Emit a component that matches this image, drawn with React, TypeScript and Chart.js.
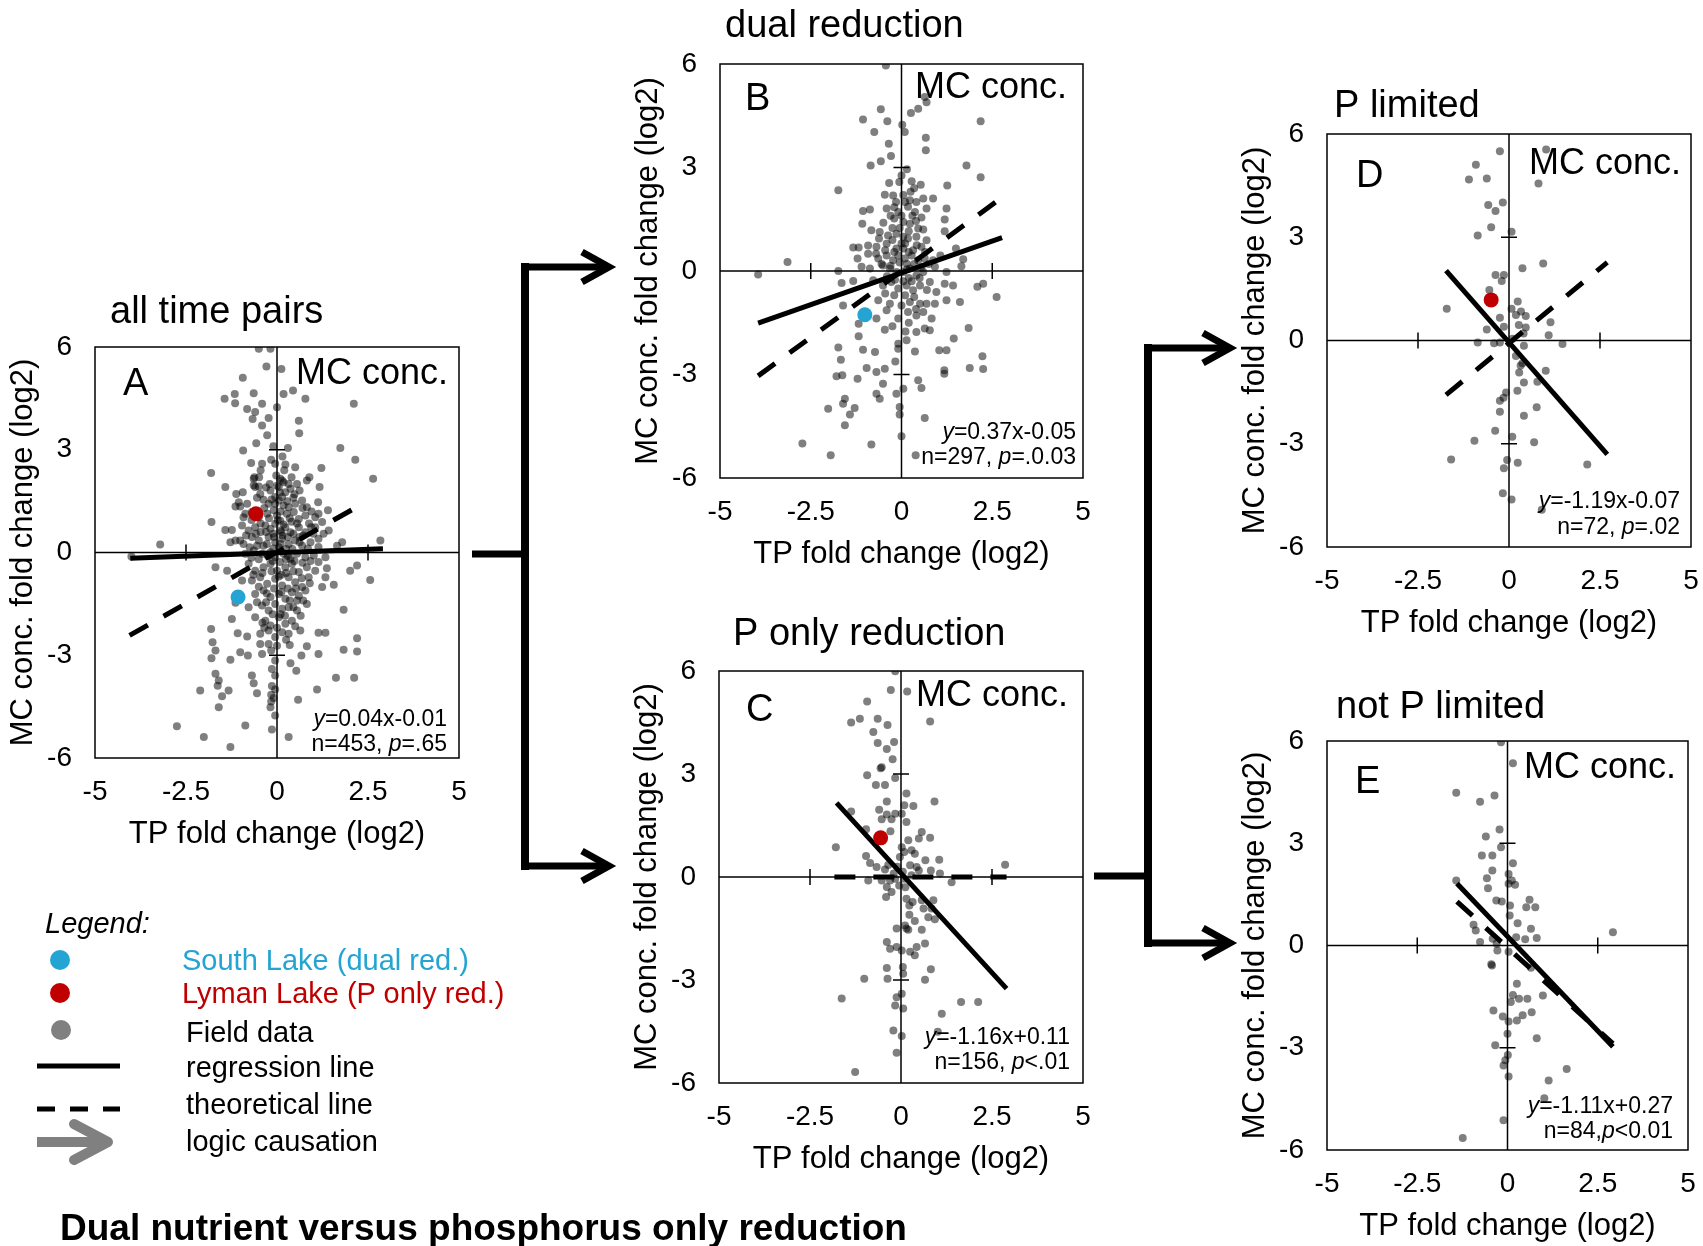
import React, { useEffect, useRef } from 'react';
import { Chart, registerables } from 'chart.js';

Chart.register(...registerables);

const FAM = '"Liberation Sans", Arial, Helvetica, sans-serif';
const BLUE = '#23A4D3';
const RED = '#C00000';
const POINT = 'rgba(0,0,0,0.5)';

// axis ticks (labels outside the frame) and the small marks on the centre cross
const X_TICKS = [-5, -2.5, 0, 2.5, 5];
const Y_TICKS = [-6, -3, 0, 3, 6];
const X_MARKS = [-2.5, 2.5];
const Y_MARKS = [-3, 3];
const X_TITLE = 'TP fold change (log2)';
const Y_TITLE = 'MC conc. fold change (log2)';

// ---------------- Panel A : all time pairs ----------------
const fieldA: number[][] = [
  [-0.50, 5.95], [-0.18, 5.95], [-0.29, 5.43], [0.12, 5.36], [-0.94, 5.10], [-1.16, 4.63], [-0.64, 4.65], [-1.44, 4.49],
  [-1.15, 4.36], [-0.41, 4.34], [-0.82, 4.19], [-0.60, 4.10], [-0.67, 3.90], [-0.23, 3.93], [0.00, 4.24], [0.44, 4.73],
  [0.18, 4.63], [0.78, 4.49], [0.60, 3.85], [0.61, 3.48], [-0.41, 3.71], [-0.27, 3.42], [-0.57, 3.19], [-0.93, 2.98],
  [2.11, 4.34], [1.74, 3.05], [2.15, 2.71], [2.64, 2.15], [-1.81, 2.32], [-0.71, 2.61], [-0.41, 2.59], [-0.16, 2.71],
  [-0.05, 2.59], [0.23, 2.57], [0.50, 2.49], [1.22, 2.47], [0.89, 2.20], [0.82, 2.10], [1.17, 1.91], [0.62, 1.81],
  [0.32, 2.00], [0.14, 2.10], [-1.42, 1.91], [-1.12, 1.71], [-0.94, 1.76], [-0.62, 2.20], [-0.49, 2.20], [-0.60, 1.91],
  [-0.46, 1.71], [-0.18, 1.81], [-1.14, 1.34], [-1.01, 1.34], [-1.80, 0.89], [-0.92, 1.03], [-1.42, 0.66], [-1.24, 0.66],
  [-1.28, 0.30], [-1.01, 0.35], [-3.21, 0.23], [-4.00, -0.12], [1.13, 1.47], [1.40, 1.23], [1.14, 1.13], [0.94, 0.74],
  [1.42, 0.64], [1.79, 0.30], [1.65, 0.20], [2.84, 0.35], [1.14, 0.16], [1.33, -0.14], [1.14, -0.28], [1.37, -0.46],
  [2.01, -0.53], [2.20, -0.38], [2.56, -0.80], [1.33, -0.72], [1.56, -0.94], [0.87, -0.72], [1.24, -1.01], [1.83, -1.67],
  [1.14, -2.34], [1.33, -2.34], [2.20, -2.50], [2.20, -2.89], [1.83, -2.84], [1.14, -2.96], [0.82, -2.74], [0.67, -3.01],
  [0.37, -3.23], [0.53, -3.45], [1.62, -3.66], [2.12, -3.66], [1.10, -4.00], [0.58, -4.30], [0.32, -5.39],
  [-1.69, -0.43], [-1.37, -0.53], [-0.96, -0.82], [-1.14, -1.47], [-1.24, -1.94], [-1.08, -2.36], [-0.82, -2.45],
  [-1.81, -2.23], [-1.77, -2.62], [-1.69, -2.86], [-1.80, -3.09], [-1.28, -3.13], [-1.01, -2.91], [-0.80, -3.01],
  [-0.41, -2.96], [-0.46, -2.67], [-0.23, -2.67], [-1.69, -3.54], [-1.60, -3.74], [-1.63, -3.89], [-0.69, -3.59],
  [-0.64, -3.82], [-0.55, -4.11], [-1.33, -4.03], [-1.51, -4.20], [-2.11, -4.03], [-1.60, -4.52], [-0.87, -5.05],
  [-2.75, -5.07], [-2.01, -5.39], [-1.28, -5.68], [-0.18, -4.52], [-0.14, -5.17], [-0.05, -4.76], [-0.14, -3.90],
  [-0.05, -4.00], [-0.16, -4.15], [-0.09, -4.25], [-0.16, -4.35], [-0.05, -3.59], [-0.14, -3.40], [-0.05, -3.15],
  [-0.16, -2.86], [0.00, -2.72],
  [-0.64, 2.15], [0.09, 2.15], [0.18, 2.05], [0.55, 2.00], [-0.02, 2.25],
  [-0.64, 1.96], [-0.50, 1.93], [0.05, 1.91], [0.23, 1.76], [0.37, 1.86], [-0.05, 1.62], [0.14, 1.62],
  [-1.05, 1.47], [-0.82, 1.42], [-0.37, 1.54], [-0.23, 1.42], [-0.05, 1.42], [0.18, 1.37], [0.32, 1.32], [0.50, 1.42],
  [0.69, 1.52], [0.82, 1.32],
  [-0.87, 1.13], [-0.69, 1.18], [-0.50, 1.03], [-0.27, 1.13], [-0.09, 1.23], [0.00, 1.08], [0.09, 0.93], [0.27, 1.13],
  [0.46, 1.18], [0.60, 0.98], [0.78, 1.08], [1.05, 1.03], [1.24, 0.89],
  [-0.96, 0.79], [-0.78, 0.64], [-0.60, 0.74], [-0.32, 0.79], [-0.18, 0.69], [-0.05, 0.84], [0.09, 0.64], [0.23, 0.74],
  [0.37, 0.59], [0.60, 0.74], [0.78, 0.59], [1.05, 0.74], [1.28, 0.55],
  [-1.14, 0.35], [-0.92, 0.25], [-0.69, 0.45], [-0.50, 0.35], [-0.37, 0.20], [-0.23, 0.45], [-0.05, 0.30], [0.14, 0.40],
  [0.32, 0.25], [0.50, 0.35], [0.69, 0.20], [0.92, 0.30], [1.14, 0.40],
  [-0.87, -0.04], [-0.64, 0.06], [-0.41, -0.04], [-0.18, 0.01], [-0.05, -0.14], [0.18, -0.04], [0.37, -0.18], [0.55, -0.04],
  [0.78, -0.14], [1.01, -0.09],
  [-0.78, -0.33], [-0.60, -0.53], [-0.37, -0.43], [-0.18, -0.33], [0.00, -0.53], [0.23, -0.43], [0.41, -0.33], [0.60, -0.57],
  [0.82, -0.43], [1.05, -0.53],
  [-0.69, -0.82], [-0.46, -0.72], [-0.27, -0.91], [-0.05, -0.77], [0.14, -0.96], [0.32, -0.72], [0.50, -0.87], [0.69, -1.01],
  [-0.60, -1.21], [-0.37, -1.11], [-0.18, -1.30], [0.05, -1.21], [0.23, -1.35], [0.41, -1.16], [0.60, -1.26], [0.78, -1.11],
  [-0.78, -1.60], [-0.41, -1.55], [-0.23, -1.69], [-0.05, -1.50], [0.14, -1.64], [0.32, -1.60], [0.55, -1.69], [0.82, -1.50],
  [-0.60, -1.89], [-0.32, -1.99], [-0.18, -2.13], [0.05, -1.89], [0.23, -2.08], [0.41, -1.99],
  [-0.46, -2.37], [-0.23, -2.28], [-0.05, -2.47], [0.14, -2.33], [0.32, -2.37], [0.64, -2.28],
  [0.05, 1.52], [0.10, 1.20], [0.15, 0.50], [-0.10, 0.55], [0.05, 0.15], [0.25, -0.20], [-0.12, -0.25], [0.12, -0.65],
  [0.30, -1.05], [-0.30, -1.45], [0.45, 1.60], [0.20, 2.40], [-0.30, 1.90], [0.40, 0.90], [-0.45, 0.60], [0.62, 0.45],
  [0.10, -1.80], [0.35, -2.70], [-0.35, -2.20], [0.55, -1.40],
  [-0.55, 1.60], [-0.35, 1.30], [-0.15, 1.55], [0.08, 1.75], [0.28, 1.50], [0.48, 1.70], [0.70, 1.30], [0.95, 1.20],
  [-0.70, 0.95], [-0.45, 0.85], [-0.22, 1.00], [0.02, 0.95], [0.18, 0.82], [0.35, 1.00], [0.55, 0.85], [0.88, 0.85],
  [-0.85, 0.50], [-0.58, 0.55], [-0.30, 0.60], [-0.08, 0.45], [0.12, 0.60], [0.30, 0.45], [0.45, 0.55], [0.72, 0.50],
  [1.00, 0.55], [-0.75, 0.15], [-0.55, 0.20], [-0.28, 0.25], [-0.10, 0.12], [0.10, 0.25], [0.25, 0.10], [0.42, 0.10],
  [0.62, 0.30], [0.85, 0.12], [-0.70, -0.15], [-0.50, -0.20], [-0.25, -0.10], [0.08, -0.28], [0.30, -0.10], [0.48, -0.25],
  [0.70, -0.30], [0.92, -0.25], [-0.65, -0.65], [-0.40, -0.60], [-0.15, -0.55], [0.05, -0.70], [0.25, -0.60], [0.45, -0.55],
  [0.68, -0.75], [0.90, -0.90], [-0.50, -1.00], [-0.28, -1.20], [-0.08, -1.05], [0.12, -1.15], [0.35, -1.40], [0.52, -1.05],
  [0.72, -1.40], [-0.55, -1.45], [-0.12, -1.80], [0.22, -1.85], [0.45, -1.60], [0.65, -1.85], [-0.40, -2.05], [0.00, -2.20],
  [0.25, -2.55], [0.50, -2.15], [-0.20, 2.00], [0.00, 1.95], [0.40, 2.20], [-0.45, 2.40], [0.15, 2.80], [-0.10, 3.10],
  [0.30, 3.05],
];
const regA: number[][] = [[-4.03, -0.17], [2.91, 0.11]];
const theoA: number[][] = [[-4.05, -2.42], [2.38, 1.44]];
const southLakeA: number[][] = [[-1.07, -1.30]];
const lymanLakeA: number[][] = [[-0.58, 1.13]];

// ---------------- Panel B : dual reduction ----------------
const fieldB: number[][] = [
  [-0.43, 5.96], [0.64, 5.04], [0.46, 4.70], [0.26, 4.58], [0.69, 4.89], [-0.57, 4.69], [-1.06, 4.39], [-0.39, 4.34],
  [-0.75, 4.03], [0.02, 4.24], [0.09, 4.03], [-0.35, 3.69], [0.67, 3.86], [0.67, 3.50], [2.18, 4.34], [-0.29, 3.33],
  [-0.57, 3.18], [-0.85, 3.06], [1.79, 3.06], [2.18, 2.72], [-1.74, 2.34], [-0.34, 2.55], [-0.06, 2.58], [0.00, 2.77],
  [0.28, 2.60], [0.53, 2.50], [1.26, 2.48], [-0.46, 2.21], [-0.23, 2.19], [0.23, 2.05], [0.41, 2.00], [0.60, 2.10],
  [0.87, 2.10], [-1.06, 1.74], [-0.87, 1.78], [-0.41, 1.81], [-0.09, 1.71], [0.18, 1.86], [0.37, 1.71], [0.69, 1.81],
  [1.24, 1.81], [-1.08, 1.37], [-0.20, 1.52], [0.05, 1.42], [0.23, 1.37], [0.46, 1.23], [1.19, 1.49], [1.19, 1.15],
  [-0.83, 1.18], [-0.60, 1.13], [-0.37, 1.03], [-0.14, 1.08], [0.05, 0.99], [0.18, 0.94], [0.41, 0.99], [0.69, 0.89],
  [-0.62, 0.94], [-1.33, 0.68], [-1.18, 0.68], [-0.92, 0.74], [-0.69, 0.70], [-0.41, 0.79], [-0.14, 0.65], [0.05, 0.65],
  [0.32, 0.60], [0.55, 0.70], [1.50, 0.65], [-0.92, 0.50], [-0.64, 0.36], [-0.41, 0.45], [-0.23, 0.31], [-0.09, 0.45],
  [0.09, 0.36], [0.28, 0.45], [0.46, 0.31], [0.64, 0.36], [0.87, 0.31], [1.07, 0.45], [-1.21, 0.36], [-3.14, 0.26],
  [1.70, 0.34], [1.65, 0.14], [-3.95, -0.10], [-1.74, 0.00], [-1.10, 0.12], [-0.87, 0.07], [-0.51, 0.16], [-0.32, 0.07],
  [-0.14, -0.03], [0.05, -0.03], [0.23, 0.07], [0.41, -0.13], [0.60, -0.03], [0.92, 0.12], [1.24, -0.03], [-1.65, -0.35],
  [-1.33, -0.29], [-0.78, -0.27], [-0.51, -0.42], [-0.28, -0.32], [-0.09, -0.51], [0.14, -0.42], [0.32, -0.56], [0.51, -0.42],
  [0.78, -0.32], [0.96, -0.61], [1.19, -0.37], [1.42, -0.42], [2.25, -0.37], [2.09, -0.46], [2.62, -0.75], [-1.61, -1.00],
  [-0.64, -0.85], [-0.32, -0.95], [0.00, -1.00], [0.23, -0.90], [0.51, -0.95], [0.69, -0.95], [0.92, -0.95], [1.24, -0.85],
  [1.61, -0.90], [-0.69, -1.38], [-0.41, -1.14], [-0.09, -1.38], [0.18, -1.19], [0.41, -1.29], [0.60, -1.19], [0.83, -1.38],
  [-1.18, -1.53], [-0.46, -1.70], [0.11, -1.75], [0.41, -1.77], [0.64, -1.67], [0.78, -1.72], [1.85, -1.65], [-1.18, -1.89],
  [0.14, -2.01], [0.37, -2.33], [1.44, -1.96], [-0.09, -2.11], [-0.09, -2.25], [-1.74, -2.22], [-1.06, -2.28], [-0.73, -2.35],
  [1.04, -2.30], [1.24, -2.30], [-1.67, -2.57], [-0.17, -2.62], [2.23, -2.47], [2.25, -2.84], [1.88, -2.81], [1.18, -2.88],
  [1.18, -2.98], [-0.96, -2.81], [-0.69, -2.93], [-0.46, -2.83], [-1.79, -3.05], [-1.63, -3.02], [-1.21, -3.12], [-0.51, -3.27],
  [0.05, -3.41], [0.46, -3.17], [0.55, -3.39], [-0.69, -3.56], [-0.60, -3.70], [-0.14, -3.56], [-1.56, -3.70], [-1.61, -3.85],
  [-1.29, -3.97], [-2.02, -3.99], [-1.42, -4.16], [-1.56, -4.47], [-0.05, -3.94], [-0.05, -4.16], [0.64, -4.26], [0.00, -4.79],
  [-0.83, -5.03], [-2.73, -5.00], [-1.95, -5.34], [0.39, -5.34],
  [0.10, 0.80], [-0.05, 1.25], [0.30, 1.60], [0.15, 0.20], [-0.25, 0.90], [0.20, -0.20], [-0.20, -0.70], [0.35, -0.75],
  [0.10, 2.00], [-0.30, 1.60], [0.55, 1.55], [0.25, 2.30],
  [-0.50, 1.40], [-0.25, 1.25], [0.00, 1.60], [0.20, 1.15], [0.40, 1.45], [0.60, 1.20], [-0.70, 0.50], [-0.45, 0.60],
  [-0.20, 0.55], [0.00, 0.80], [0.20, 0.55], [0.42, 0.75], [0.65, 0.55], [-0.55, 0.20], [-0.30, 0.15], [-0.05, 0.25],
  [0.15, 0.05], [0.35, 0.20], [0.55, 0.10], [0.75, 0.20], [-0.40, -0.15], [-0.18, -0.25], [0.05, -0.30], [0.28, -0.30],
  [0.50, -0.20], [0.70, -0.55], [-0.45, -0.65], [0.10, -0.70], [0.40, -1.10], [-0.25, -1.60], [0.20, -1.50], [0.05, 2.20],
  [-0.15, 2.00], [0.35, 2.40], [0.15, 2.95], [-0.20, 1.85],
];
const regB: number[][] = [[-3.95, -1.51], [2.77, 0.97]];
const theoB: number[][] = [[-3.95, -3.04], [2.78, 2.14]];
const southLakeB: number[][] = [[-1.01, -1.27]];

// ---------------- Panel C : P only reduction ----------------
const fieldC: number[][] = [
  [-0.16, 5.99], [-0.28, 5.45], [0.17, 5.40], [-0.93, 5.11], [-1.13, 4.61], [-1.37, 4.50], [-0.64, 4.61], [-0.37, 4.43],
  [-0.76, 4.22], [-0.19, 3.93], [-0.64, 3.90], [-0.39, 3.73], [-0.23, 3.43], [-0.53, 3.20], [-0.56, 3.17], [-0.93, 2.96],
  [-0.16, 2.88], [-0.69, 2.68], [-0.44, 2.68], [0.80, 4.53], [0.15, 2.43], [-0.39, 2.20], [0.09, 2.09], [0.34, 2.07],
  [0.92, 2.20], [-0.60, 1.96], [-0.39, 1.82], [-0.16, 1.84], [0.02, 1.84], [-1.37, 1.91], [-0.53, 1.68], [-0.26, 1.68],
  [0.15, 1.60], [-0.29, 1.33], [-0.96, 1.39], [0.57, 1.31], [0.80, 1.14], [0.49, 1.12], [0.20, 1.07], [-1.79, 0.87],
  [0.02, 0.87], [0.09, 0.73], [0.29, 0.78], [0.38, 0.68], [-0.03, 0.58], [-0.96, 0.61], [0.67, 0.49], [1.05, 0.50],
  [-0.85, 0.41], [-0.67, 0.29], [-0.44, 0.22], [-0.35, 0.35], [0.25, 0.34], [0.43, 0.29], [0.49, 0.19], [0.82, 0.19],
  [1.07, 0.10], [2.86, 0.36], [-0.90, -0.10], [-0.53, -0.10], [-0.30, -0.10], [-0.16, -0.05], [0.09, -0.05], [0.29, 0.05],
  [1.39, -0.15], [-0.39, -0.29], [-0.26, -0.44], [-0.41, -0.58], [0.15, -0.63], [0.32, -0.73], [0.23, -0.83], [0.57, -0.68],
  [0.89, -0.68], [0.84, -0.92], [0.62, -0.92], [0.23, -1.10], [0.11, -1.41], [0.38, -1.28], [0.75, -1.17], [0.93, -1.23],
  [-0.12, -1.50], [0.15, -1.50], [0.20, -1.54], [0.57, -1.54], [-0.39, -1.89], [-0.30, -2.09], [-0.12, -2.04], [0.02, -2.14],
  [0.25, -2.18], [0.38, -2.28], [0.66, -1.94], [0.43, -2.04], [-0.39, -2.65], [0.05, -2.62], [0.06, -2.82], [-0.37, -2.96],
  [0.82, -2.69], [0.66, -2.99], [-1.01, -2.96], [-1.63, -3.54], [-0.12, -3.50], [0.02, -3.40], [-0.16, -3.74], [0.06, -3.83],
  [1.65, -3.64], [2.12, -3.64], [1.12, -3.98], [-0.21, -4.47], [0.02, -4.63], [1.01, -4.51], [-0.12, -5.12], [-1.26, -5.68],
  [-0.10, 0.30], [0.05, 0.15], [-0.20, 0.10], [0.12, -0.30], [-0.05, -0.25],
];
const regC: number[][] = [[-1.77, 2.16], [2.90, -3.25]];
const theoC: number[][] = [[-1.83, 0.0], [2.90, 0.0]];
const lymanLakeC: number[][] = [[-0.56, 1.14]];

// ---------------- Panel D : P limited ----------------
const fieldD: number[][] = [
  [-0.25, 5.50], [1.02, 5.55], [-0.91, 5.11], [-1.10, 4.68], [-0.61, 4.71], [0.81, 4.56], [-0.57, 3.94], [-0.17, 4.01],
  [-0.37, 3.76], [-0.49, 3.29], [-0.86, 3.05], [0.07, 3.16], [0.94, 2.24], [0.37, 2.10], [-0.37, 1.90], [-0.14, 1.90],
  [-0.20, 1.73], [-0.54, 1.47], [-1.71, 0.92], [0.24, 1.13], [0.07, 0.92], [0.33, 0.84], [0.19, 0.74], [0.46, 0.71],
  [-0.25, 0.66], [1.14, 0.53], [0.27, 0.45], [0.46, 0.38], [-0.14, 0.40], [-0.61, 0.32], [1.09, 0.15], [-0.86, -0.06],
  [-0.41, -0.08], [-0.25, -0.06], [0.41, -0.15], [1.47, -0.10], [0.19, -0.45], [0.37, -0.66], [0.32, -0.73], [0.28, -0.93],
  [1.01, -0.88], [0.78, -1.20], [0.41, -1.22], [-0.08, -1.51], [0.23, -1.46], [-0.15, -1.66], [-0.25, -1.75], [-0.25, -2.07],
  [0.76, -1.94], [0.41, -2.19], [-0.38, -2.62], [-0.95, -2.91], [0.09, -2.80], [0.69, -2.96], [-1.59, -3.46], [-0.05, -3.47],
  [0.24, -3.55], [-0.14, -3.71], [2.15, -3.60], [-0.17, -4.44], [0.07, -4.62], [0.90, -4.92], [0.10, 0.05], [0.40, 0.20],
];
const regD: number[][] = [[-1.73, 2.03], [2.70, -3.31]];
const theoD: number[][] = [[-1.73, -1.58], [2.70, 2.27]];
const lymanLakeD: number[][] = [[-0.49, 1.18]];

// ---------------- Panel E : not P limited ----------------
const fieldE: number[][] = [
  [-0.18, 5.96], [0.15, 5.35], [-1.42, 4.48], [-0.76, 4.22], [-0.36, 4.40], [-0.22, 3.40], [-0.60, 3.20], [-0.18, 2.88],
  [-0.71, 2.64], [-0.42, 2.64], [0.15, 2.41], [-0.42, 2.20], [-0.57, 1.97], [0.03, 2.10], [0.12, 1.91], [0.21, 1.78],
  [0.03, 1.81], [-1.42, 1.91], [-0.54, 1.68], [-0.31, 1.32], [-0.16, 1.29], [0.61, 1.34], [0.52, 1.12], [0.77, 1.12],
  [0.07, 1.17], [0.06, 0.88], [0.28, 0.65], [-0.94, 0.61], [-0.88, 0.44], [0.65, 0.49], [0.49, 0.18], [0.81, 0.22],
  [2.92, 0.39], [0.24, 0.24], [-0.76, 0.10], [-0.41, 0.20], [-0.30, 0.05], [-0.28, -0.15], [0.03, -0.18], [-0.43, -0.59],
  [-0.45, -0.55], [0.65, -0.65], [0.26, -1.12], [0.15, -1.45], [0.09, -1.66], [0.32, -1.56], [0.55, -1.56], [0.98, -1.47],
  [-0.39, -1.91], [-0.13, -2.08], [0.03, -2.23], [0.26, -2.20], [0.42, -2.05], [0.67, -1.96], [0.81, -2.72], [0.00, -2.59],
  [-0.34, -2.93], [0.01, -3.21], [-0.11, -3.52], [0.03, -3.84], [-0.06, -3.37], [1.64, -3.62], [1.14, -3.96], [1.02, -4.48],
  [-0.11, -5.13], [-1.24, -5.65],
];
const regE: number[][] = [[-1.40, 1.82], [2.92, -2.97]];
const theoE: number[][] = [[-1.40, 1.29], [2.92, -2.88]];

type Seg = [string, boolean];
interface PanelDef {
  title: string;
  letter: string;
  box: [number, number, number, number];
  titleAt: [number, number];
  letterAt: [number, number];
  mcAt: [number, number];
  eqAt: [number, number, number];
  eq1: Seg[];
  eq2: Seg[];
  field: number[][];
  reg: number[][];
  theo: number[][];
  specials: { pts: number[][]; color: string }[];
}

const PANELS: PanelDef[] = [
  {
    title: 'all time pairs', letter: 'A', box: [95, 347, 364, 411],
    titleAt: [15, -34], letterAt: [28, 38], mcAt: [11, 27], eqAt: [12, -38, -13],
    eq1: [['y', true], ['=0.04x-0.01', false]], eq2: [['n=453, ', false], ['p', true], ['=.65', false]],
    field: fieldA, reg: regA, theo: theoA,
    specials: [{ pts: southLakeA, color: BLUE }, { pts: lymanLakeA, color: RED }],
  },
  {
    title: 'dual reduction', letter: 'B', box: [720, 64, 363, 414],
    titleAt: [5, -37], letterAt: [25, 36], mcAt: [16, 24], eqAt: [7, -45, -20],
    eq1: [['y', true], ['=0.37x-0.05', false]], eq2: [['n=297, ', false], ['p', true], ['=.0.03', false]],
    field: fieldB, reg: regB, theo: theoB,
    specials: [{ pts: southLakeB, color: BLUE }],
  },
  {
    title: 'P only reduction', letter: 'C', box: [719, 671, 364, 412],
    titleAt: [14, -36], letterAt: [27, 40], mcAt: [15, 25], eqAt: [13, -45, -20],
    eq1: [['y', true], ['=-1.16x+0.11', false]], eq2: [['n=156, ', false], ['p', true], ['<.01', false]],
    field: fieldC, reg: regC, theo: theoC,
    specials: [{ pts: lymanLakeC, color: RED }],
  },
  {
    title: 'P limited', letter: 'D', box: [1327, 134, 364, 413],
    titleAt: [7, -27], letterAt: [29, 43], mcAt: [10, 30], eqAt: [11, -45, -19],
    eq1: [['y', true], ['=-1.19x-0.07', false]], eq2: [['n=72, ', false], ['p', true], ['=.02', false]],
    field: fieldD, reg: regD, theo: theoD,
    specials: [{ pts: lymanLakeD, color: RED }],
  },
  {
    title: 'not P limited', letter: 'E', box: [1327, 741, 361, 409],
    titleAt: [9, -33], letterAt: [28, 42], mcAt: [12, 27], eqAt: [15, -43, -18],
    eq1: [['y', true], ['=-1.11x+0.27', false]], eq2: [['n=84,', false], ['p', true], ['<0.01', false]],
    field: fieldE, reg: regE, theo: theoE,
    specials: [],
  },
];

const PAD_L = 100; // room left of the frame (tick labels + axis title)
const PAD_T = 62;  // room above the frame (panel title)
const PAD_R = 32;  // must exceed Chart.js' own x-label padding on the right
const PAD_B = 96;  // room below the frame (tick labels + axis title)

function drawRich(ctx: CanvasRenderingContext2D, segs: Seg[], right: number, y: number, size: number) {
  const fonts = segs.map(([, it]) => `${it ? 'italic ' : ''}${size}px ${FAM}`);
  let w = 0;
  segs.forEach(([t], i) => { ctx.font = fonts[i]; w += ctx.measureText(t).width; });
  let x = right - w;
  ctx.textAlign = 'left';
  ctx.textBaseline = 'middle';
  segs.forEach(([t], i) => {
    ctx.font = fonts[i];
    ctx.fillText(t, x, y);
    x += ctx.measureText(t).width;
  });
}

function makeDecor(p: PanelDef) {
  return {
    id: 'panelDecor',
    beforeDatasetsDraw(chart: any) {
      const { ctx, chartArea: a, scales } = chart;
      const xs = scales.x, ys = scales.y;
      ctx.save();
      ctx.strokeStyle = '#000';
      ctx.lineWidth = 1.5;
      ctx.strokeRect(a.left, a.top, a.right - a.left, a.bottom - a.top);
      const x0 = xs.getPixelForValue(0);
      const y0 = ys.getPixelForValue(0);
      ctx.beginPath();
      ctx.moveTo(a.left, y0); ctx.lineTo(a.right, y0);
      ctx.moveTo(x0, a.top); ctx.lineTo(x0, a.bottom);
      X_MARKS.forEach((v) => { const px = xs.getPixelForValue(v); ctx.moveTo(px, y0 - 8); ctx.lineTo(px, y0 + 8); });
      Y_MARKS.forEach((v) => { const py = ys.getPixelForValue(v); ctx.moveTo(x0 - 8, py); ctx.lineTo(x0 + 8, py); });
      ctx.stroke();
      ctx.restore();
    },
    afterDatasetsDraw(chart: any) {
      const { ctx, chartArea: a } = chart;
      ctx.save();
      ctx.fillStyle = '#000';
      ctx.textBaseline = 'middle';
      ctx.font = `38px ${FAM}`;
      ctx.textAlign = 'left';
      ctx.fillText(p.title, a.left + p.titleAt[0], a.top + p.titleAt[1]);
      ctx.font = `38px ${FAM}`;
      ctx.fillText(p.letter, a.left + p.letterAt[0], a.top + p.letterAt[1]);
      ctx.font = `36px ${FAM}`;
      ctx.textAlign = 'right';
      ctx.fillText('MC conc.', a.right - p.mcAt[0], a.top + p.mcAt[1]);
      drawRich(ctx, p.eq1, a.right - p.eqAt[0], a.bottom + p.eqAt[1], 23);
      drawRich(ctx, p.eq2, a.right - p.eqAt[0], a.bottom + p.eqAt[2], 23);
      ctx.restore();
    },
  };
}

function Panel({ p }: { p: PanelDef }) {
  const ref = useRef<HTMLCanvasElement>(null);
  const [bl, bt, bw, bh] = p.box;
  useEffect(() => {
    const toXY = (arr: number[][]) => arr.map(([x, y]) => ({ x, y }));
    const datasets: any[] = [];
    p.specials.forEach((s, i) => {
      datasets.push({
        type: 'scatter', data: toXY(s.pts), backgroundColor: s.color, borderWidth: 0,
        pointRadius: 7.5, pointHoverRadius: 7.5, order: i,
      });
    });
    datasets.push({
      type: 'line', data: toXY(p.reg), borderColor: '#000', borderWidth: 5, pointRadius: 0,
      borderCapStyle: 'butt', fill: false, order: 5,
    });
    datasets.push({
      type: 'line', data: toXY(p.theo), borderColor: '#000', borderWidth: 5, pointRadius: 0,
      borderDash: [21, 18], borderCapStyle: 'butt', fill: false, order: 6,
    });
    datasets.push({
      type: 'scatter', data: toXY(p.field), backgroundColor: POINT, borderWidth: 0,
      pointRadius: 4, pointHoverRadius: 4, order: 10,
    });
    const tickFont = { size: 28, family: FAM };
    const titleFont = { size: 31, family: FAM };
    const chart = new Chart(ref.current as HTMLCanvasElement, {
      type: 'scatter',
      data: { datasets },
      options: {
        responsive: false,
        animation: false,
        devicePixelRatio: 1,
        events: [],
        layout: { padding: { left: 0, top: PAD_T, right: PAD_R, bottom: 0 } },
        plugins: { legend: { display: false }, tooltip: { enabled: false }, title: { display: false } },
        scales: {
          x: {
            type: 'linear', min: -5, max: 5,
            afterBuildTicks: (s: any) => { s.ticks = X_TICKS.map((v) => ({ value: v })); },
            afterFit: (s: any) => { s.height = PAD_B; },
            grid: { display: false, drawTicks: false },
            border: { display: false },
            ticks: { font: tickFont, color: '#000', padding: 17, maxRotation: 0, autoSkip: false, callback: (v: any) => String(v) },
            title: { display: true, text: X_TITLE, font: titleFont, color: '#000', padding: { top: 0, bottom: 1 } },
          },
          y: {
            type: 'linear', min: -6, max: 6,
            afterBuildTicks: (s: any) => { s.ticks = Y_TICKS.map((v) => ({ value: v })); },
            afterFit: (s: any) => { s.width = PAD_L; },
            grid: { display: false, drawTicks: false },
            border: { display: false },
            ticks: { font: tickFont, color: '#000', padding: 23, autoSkip: false, callback: (v: any) => String(v) },
            title: { display: true, text: Y_TITLE, font: titleFont, color: '#000', padding: { top: 10, bottom: 0 } },
          },
        },
      },
      plugins: [makeDecor(p)],
    } as any);
    return () => chart.destroy();
  }, []);
  return (
    <canvas
      ref={ref}
      width={PAD_L + bw + PAD_R}
      height={PAD_T + bh + PAD_B}
      style={{ position: 'absolute', left: bl - PAD_L, top: bt - PAD_T, width: PAD_L + bw + PAD_R, height: PAD_T + bh + PAD_B }}
    />
  );
}

const LEGEND_ITEMS = [
  { label: 'South Lake (dual red.)', color: BLUE },
  { label: 'Lyman Lake (P only red.)', color: RED },
  { label: 'Field data', color: '#000' },
  { label: 'regression line', color: '#000' },
  { label: 'theoretical line', color: '#000' },
  { label: 'logic causation', color: '#000' },
];

function Overlay() {
  const txt = { fontFamily: FAM } as React.CSSProperties;
  const ys = [960, 993, 1032, 1067, 1104, 1141];
  const xs = [182, 182, 186, 186, 186, 186];
  return (
    <svg width={1703} height={1246} style={{ position: 'absolute', left: 0, top: 0 }}>
      <g stroke="#000" fill="none" strokeLinejoin="miter">
        <line x1={472} y1={554} x2={528} y2={554} strokeWidth={7} />
        <line x1={525} y1={263} x2={525} y2={870} strokeWidth={8} />
        <line x1={521} y1={267} x2={607} y2={267} strokeWidth={7} />
        <line x1={521} y1={866} x2={607} y2={866} strokeWidth={7} />
        <polyline points="582,252 609,267 582,282" strokeWidth={7} />
        <polyline points="582,851 609,866 582,881" strokeWidth={7} />
        <line x1={1094} y1={876} x2={1151} y2={876} strokeWidth={7} />
        <line x1={1148} y1={344} x2={1148} y2={947} strokeWidth={8} />
        <line x1={1144} y1={348} x2={1228} y2={348} strokeWidth={7} />
        <line x1={1144} y1={943} x2={1228} y2={943} strokeWidth={7} />
        <polyline points="1203,333 1230,348 1203,363" strokeWidth={7} />
        <polyline points="1203,928 1230,943 1203,958" strokeWidth={7} />
      </g>
      <text x={45} y={923} fontSize={29} fontStyle="italic" dominantBaseline="central" style={txt}>Legend:</text>
      <circle cx={60} cy={960} r={10} fill={BLUE} />
      <circle cx={60} cy={993} r={10} fill={RED} />
      <circle cx={61} cy={1030} r={10} fill="#808080" />
      <line x1={37} y1={1066} x2={120} y2={1066} stroke="#000" strokeWidth={5} />
      <line x1={37} y1={1109} x2={120} y2={1109} stroke="#000" strokeWidth={5} strokeDasharray="18 15" />
      <g stroke="#808080" fill="none" strokeWidth={10} strokeLinecap="round" strokeLinejoin="round">
        <line x1={37} y1={1142} x2={106} y2={1142} strokeLinecap="butt" />
        <polyline points="74,1124 108,1142 74,1160" />
      </g>
      {LEGEND_ITEMS.map((it, i) => (
        <text key={it.label} x={xs[i]} y={ys[i]} fontSize={29} fill={it.color} dominantBaseline="central" style={txt}>
          {it.label}
        </text>
      ))}
      <text x={60} y={1227} fontSize={37} fontWeight="bold" dominantBaseline="central" style={txt}>
        Dual nutrient versus phosphorus only reduction
      </text>
    </svg>
  );
}

export default function App() {
  return (
    <div style={{ position: 'absolute', left: 0, top: 0, width: 1703, height: 1246, overflow: 'hidden', background: '#fff' }}>
      {PANELS.map((p) => <Panel key={p.letter} p={p} />)}
      <Overlay />
    </div>
  );
}
